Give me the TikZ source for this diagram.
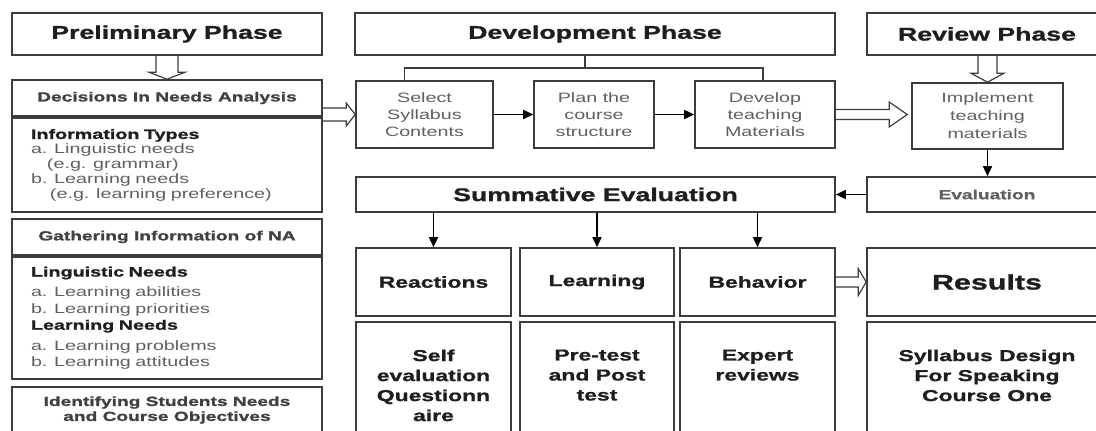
\documentclass[tikz,border=0pt]{standalone}
\usepackage{fontspec}
\setmainfont{Liberation Sans}[FakeStretch=1.45, BoldFeatures={FakeBold=1.2}]
\usetikzlibrary{positioning}
\usetikzlibrary{calc}
\usetikzlibrary{arrows.meta}
\definecolor{linegray}{RGB}{60,60,60}
\definecolor{txtdark}{RGB}{30,30,30}
\definecolor{txtgray}{RGB}{95,95,95}

% hollow block arrows: from, to, half shaft, half head, head length (px)
\newcommand{\hfatarrow}[5]{\draw[fatarrow] ($(#1)+(0,-#3)$) -- ($(#2)+(-#5,-#3)$) -- ($(#2)+(-#5,-#4)$) -- (#2) -- ($(#2)+(-#5,#4)$) -- ($(#2)+(-#5,#3)$) -- ($(#1)+(0,#3)$);}
\newcommand{\vfatarrow}[5]{\draw[fatarrow] ($(#1)+(-#3,0)$) -- ($(#2)+(-#3,-#5)$) -- ($(#2)+(-#4,-#5)$) -- (#2) -- ($(#2)+(#4,-#5)$) -- ($(#2)+(#3,-#5)$) -- ($(#1)+(#3,0)$);}

\begin{document}
\begin{tikzpicture}[x=0.5pt,y=-0.5pt,
  box/.style={draw=linegray, line width=0.8pt, inner sep=0pt, align=center},
  phase/.style={box, font=\fontsize{9.2}{11}\selectfont\bfseries, text=txtdark},
  subhead/.style={box, minimum width=155pt, minimum height=18pt, font=\fontsize{6.6}{7.5}\selectfont\bfseries, text=txtdark!85},
  listbox/.style={box, align=left, text width=136pt, inner xsep=9.5pt, font=\fontsize{6.8}{7.4}\selectfont, text=txtgray},
  taskbox/.style={box, minimum height=33.5pt, font=\fontsize{6.8}{8.4}\selectfont, text=txtgray},
  level/.style={box, minimum height=34pt, font=\fontsize{7.9}{9}\selectfont\bfseries, text=txtdark},
  outbox/.style={box, minimum height=65pt},
  outtext/.style={align=center, inner sep=0pt, font=\fontsize{7.9}{10}\selectfont\bfseries, text=txtdark},
  arr/.style={-{Triangle[length=5pt,width=4.5pt]}, line width=0.8pt, draw=black},
  link/.style={line width=0.8pt, draw=linegray},
  fatarrow/.style={draw=linegray, line width=0.6pt, line join=miter}]
\useasboundingbox (0,0) rectangle (1096,430);
\clip (0,0) rectangle (1096,430);

% phases
\node[phase, minimum width=155pt, minimum height=21pt] (prelim) at (167,34) {Preliminary Phase};
\node[phase, minimum width=240pt, minimum height=21pt] (dev) at (595,34) {Development Phase};
\node[phase, minimum width=120pt, minimum height=21pt] (review) at (987,34) {Review Phase};

% preliminary column
\node[subhead] (dec) at (167,98) {Decisions In Needs Analysis};
\node[listbox, minimum height=47pt] (info) at (167,165) {\textbf{\color{txtdark}Information Types}\\
  a. Linguistic needs\\
  \hspace*{8pt}(e.g. grammar)\\
  b. Learning needs\\
  \hspace*{9.5pt}(e.g. learning preference)};
\node[subhead] (gath) at (167,237) {Gathering Information of NA};
\node[listbox, minimum height=61pt, font=\fontsize{6.8}{8.2}\selectfont] (ling) at (167,318) {\textbf{\color{txtdark}Linguistic Needs}\\[2pt]
  a. Learning abilities\\
  b. Learning priorities\\
  \textbf{\color{txtdark}Learning Needs}\\[2pt]
  a. Learning problems\\
  b. Learning attitudes};
\node[subhead, minimum height=23pt] (ident) at (167,410) {Identifying Students Needs\\and Course Objectives};

% development and review
\node[taskbox, minimum width=68.5pt] (sel) at (424.5,114.5) {Select\\Syllabus\\Contents};
\node[taskbox, minimum width=60pt] (plan) at (594,114.5) {Plan the\\course\\structure};
\node[taskbox, minimum width=70pt] (devm) at (765,114.5) {Develop\\teaching\\Materials};
\node[taskbox, minimum width=75.5pt, minimum height=33pt, font=\fontsize{6.8}{9}\selectfont] (impl) at (987.5,116) {Implement\\teaching\\materials};
\node[phase, minimum width=239.5pt, minimum height=17.5pt] (summ) at (595.5,194.5) {Summative Evaluation};
\node[subhead, minimum width=120pt, minimum height=17.5pt, text=txtgray] (eval) at (987,194.5) {Evaluation};

% evaluation levels
\node[level, minimum width=77.5pt] (react) at (433.5,282) {Reactions};
\node[level, minimum width=77pt] (learn) at (597,282) {Learning};
\node[level, minimum width=77.5pt] (behav) at (757.5,282) {Behavior};
\node[level, minimum width=120pt, font=\fontsize{10.5}{12}\selectfont\bfseries] (results) at (987,282) {Results};

\node[outbox, minimum width=77.5pt] (selfbox) at (433.5,387) {};
\node[outbox, minimum width=77pt] (prebox) at (597,387) {};
\node[outbox, minimum width=77.5pt] (expbox) at (757.5,387) {};
\node[outbox, minimum width=120pt] (sylbox) at (987,387) {};
\node[outtext, below=14pt of selfbox.north] (selftext) {Self\\evaluation\\Questionn\\aire};
\node[outtext, below=14pt of prebox.north] (pretext) {Pre-test\\and Post\\test};
\node[outtext, below=14pt of expbox.north] (exptext) {Expert\\reviews};
\node[outtext, below=14pt of sylbox.north] (syltext) {Syllabus Design\\For Speaking\\Course One};

% bracket over the tasks
\coordinate (brk) at (585,68);
\draw[link] (dev.south -| brk) -- (brk);
\draw[link] ([xshift=-10pt]sel.north) |- (brk) -| ([xshift=-1pt]devm.north);

% solid arrows
\draw[arr] (sel) -- (plan);
\draw[arr] (plan) -- (devm);
\draw[arr] (impl) -- (impl |- eval.north);
\draw[arr] (eval) -- (summ);
\draw[arr] (summ.south -| react) -- (react);
\draw[arr] (summ.south -| learn) -- (learn);
\draw[arr] (summ.south -| behav) -- (behav);

% hollow arrows
\coordinate (decout) at (sel.west -| dec.east);
\coordinate (implin) at ([xshift=-2pt]devm.east -| impl.west);
\coordinate (revout) at (impl.north |- review.south);
\vfatarrow{prelim.south}{dec.north}{11}{18}{7}
\hfatarrow{decout}{sel.west}{6.5}{11.5}{9}
\hfatarrow{devm.east}{implin}{5}{12.5}{18}
\vfatarrow{revout}{impl.north}{9.5}{16.5}{9}
\hfatarrow{behav.east}{results.west}{5}{13.5}{8}

\end{tikzpicture}
\end{document}
